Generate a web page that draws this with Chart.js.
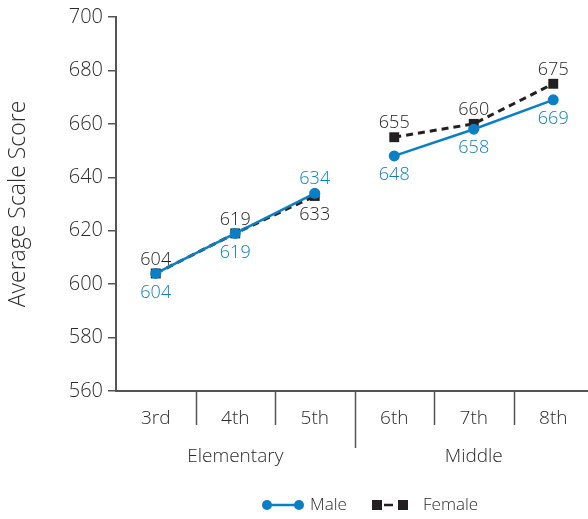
<!DOCTYPE html>
<html>
<head>
<meta charset="utf-8">
<script src="https://cdn.jsdelivr.net/npm/chart.js@4/dist/chart.umd.min.js"></script>
<style>
  html, body { margin: 0; padding: 0; background: #fff; overflow: hidden; }
  #wrap { width: 588px; height: 519px; overflow: hidden; position: relative; }
  canvas { display: block; }
</style>
</head>
<body>
<div id="wrap"><canvas id="chart" width="600" height="519"></canvas></div>
<script>
// Grades, school levels and average scale scores
const grades = ['3rd', '4th', '5th', '6th', '7th', '8th'];
const schoolLevels = ['Elementary', 'Middle'];
const gradesPerLevel = [3, 3];
const maleScores = [604, 619, 634, 648, 658, 669];
const femaleScores = [604, 619, 633, 655, 660, 675];
const yTicks = [560, 580, 600, 620, 640, 660, 680, 700];

const FONT = "'Open Sans', 'DejaVu Sans', sans-serif";
const WEIGHT = 350;
const BLUE = '#0b7fc6';
const DARK = '#231f20';
const AXIS = '#555555';
const TEXT = '#2b2b2b';

// last grade index of each school level: lines are not joined across levels
const levelEnds = [];
gradesPerLevel.reduce((acc, n) => { levelEnds.push(acc + n - 1); return acc + n; }, 0);
const breakAtLevel = color => ctx => levelEnds.includes(ctx.p0DataIndex) ? 'rgba(0,0,0,0)' : color;

// value labels: male below the marker, female above, swapped where the lines cross
const labelSide = {
  0: i => (i === 2 ? -1 : 1),
  1: i => (i === 2 ? 1 : -1)
};

const gradeFrame = {
  id: 'gradeFrame',
  afterDraw(chart) {
    const { ctx, chartArea, scales: { x } } = chart;
    const half = (x.getPixelForValue(1) - x.getPixelForValue(0)) / 2;
    const axisY = chartArea.bottom;
    ctx.save();
    ctx.strokeStyle = AXIS;
    ctx.lineWidth = 1.5;
    for (let i = 0; i < grades.length; i++) {
      const bx = Math.round(x.getPixelForValue(i) + half) + 0.5;
      const len = levelEnds.includes(i) ? 57 : 34;
      ctx.beginPath();
      ctx.moveTo(bx, axisY);
      ctx.lineTo(bx, axisY + len);
      ctx.stroke();
    }
    // school level names under the grade labels
    ctx.fillStyle = TEXT;
    ctx.font = `${WEIGHT} 19px ${FONT}`;
    ctx.textAlign = 'center';
    ctx.textBaseline = 'middle';
    let start = 0;
    schoolLevels.forEach((name, k) => {
      const end = start + gradesPerLevel[k] - 1;
      const cx = (x.getPixelForValue(start) + x.getPixelForValue(end)) / 2;
      ctx.fillText(name, cx, axisY + 66);
      start = end + 1;
    });

    // legend
    const ly = 505;
    let lx = 262;
    ctx.strokeStyle = BLUE;
    ctx.fillStyle = BLUE;
    ctx.lineWidth = 2.5;
    ctx.setLineDash([]);
    ctx.beginPath(); ctx.moveTo(lx + 5, ly); ctx.lineTo(lx + 37, ly); ctx.stroke();
    [lx + 5, lx + 37].forEach(cx => { ctx.beginPath(); ctx.arc(cx, ly, 5, 0, Math.PI * 2); ctx.fill(); });
    ctx.fillStyle = TEXT;
    ctx.font = `${WEIGHT} 17px ${FONT}`;
    ctx.textAlign = 'left';
    ctx.fillText(chart.data.datasets[0].label, lx + 48, ly);

    lx = 372;
    ctx.strokeStyle = DARK;
    ctx.fillStyle = DARK;
    ctx.lineWidth = 2.5;
    ctx.beginPath(); ctx.moveTo(lx + 12, ly); ctx.lineTo(lx + 21, ly); ctx.stroke();
    ctx.fillRect(lx, ly - 5, 10, 10);
    ctx.fillRect(lx + 26, ly - 5, 10, 10);
    ctx.fillStyle = TEXT;
    ctx.fillText(chart.data.datasets[1].label, lx + 51, ly);
    ctx.restore();
  },
  afterDatasetsDraw(chart) {
    const { ctx } = chart;
    ctx.save();
    ctx.font = `${WEIGHT} 18px ${FONT}`;
    ctx.textAlign = 'center';
    ctx.textBaseline = 'middle';
    chart.data.datasets.forEach((ds, d) => {
      const meta = chart.getDatasetMeta(d);
      ctx.fillStyle = d === 0 ? BLUE : DARK;
      meta.data.forEach((pt, i) => {
        const side = labelSide[d](i);
        const dy = side > 0 ? 19 : -14;
        ctx.fillText(String(ds.data[i]), pt.x, pt.y + dy);
      });
    });
    ctx.restore();
  }
};

new Chart(document.getElementById('chart'), {
  type: 'line',
  data: {
    labels: grades,
    datasets: [
      {
        label: 'Male',
        data: maleScores,
        borderColor: BLUE,
        backgroundColor: BLUE,
        borderWidth: 2.5,
        pointStyle: 'circle',
        pointRadius: 5.5,
        pointBorderWidth: 0,
        tension: 0,
        segment: { borderColor: breakAtLevel(BLUE) }
      },
      {
        label: 'Female',
        data: femaleScores,
        borderColor: DARK,
        backgroundColor: DARK,
        borderWidth: 3,
        borderDash: [7, 5],
        pointStyle: 'rect',
        pointRadius: 7,
        pointBorderWidth: 0,
        tension: 0,
        segment: { borderColor: breakAtLevel(DARK) }
      }
    ]
  },
  options: {
    responsive: false,
    animation: false,
    devicePixelRatio: 1,
    layout: { padding: { top: 16, right: 0, bottom: 0, left: 0 } },
    plugins: { legend: { display: false }, tooltip: { enabled: false } },
    scales: {
      x: {
        type: 'category',
        offset: true,
        grid: { display: false },
        border: { display: true, color: AXIS, width: 2 },
        ticks: { color: TEXT, font: { family: FONT, size: 19, weight: WEIGHT }, padding: 8, maxRotation: 0 },
        afterFit(scale) { scale.height = 128; }
      },
      y: {
        min: yTicks[0],
        max: yTicks[yTicks.length - 1],
        afterBuildTicks(scale) { scale.ticks = yTicks.map(v => ({ value: v })); },
        grid: { display: true, drawOnChartArea: false, drawTicks: true, tickLength: 8, color: AXIS, lineWidth: 1.5 },
        border: { display: true, color: AXIS, width: 2 },
        ticks: { color: TEXT, font: { family: FONT, size: 20, weight: WEIGHT }, padding: 5 },
        title: { display: true, text: 'Average Scale Score', color: TEXT, font: { family: FONT, size: 23, weight: WEIGHT }, padding: { top: 5, bottom: 0 } },
        afterFit(scale) { scale.width = 116; }
      }
    }
  },
  plugins: [gradeFrame]
});
</script>
</body>
</html>
